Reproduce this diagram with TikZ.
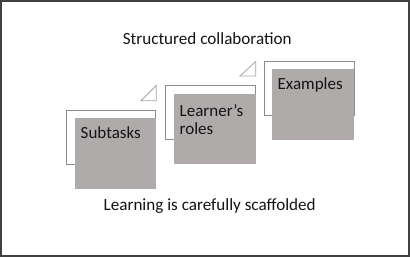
\documentclass[tikz,border=0pt]{standalone}
\usepackage{fontspec}
\setmainfont{Carlito}
\begin{document}
\begin{tikzpicture}[x=1pt,y=-1pt]
\definecolor{boxgray}{RGB}{175,171,171}
\definecolor{edgegray}{RGB}{140,140,140}
\definecolor{trigray}{RGB}{165,165,165}
\definecolor{framegray}{RGB}{64,64,64}
\definecolor{txt}{RGB}{20,20,20}
\tikzset{
  frame/.style={draw=framegray,line width=1.5pt},
  backbox/.style={draw=edgegray,fill=white,line width=0.8pt},
  frontbox/.style={fill=boxgray},
  corner/.style={draw=trigray,fill=white,line width=0.8pt,line join=miter},
  lbl/.style={font=\fontsize{17}{18}\selectfont,text=txt,inner sep=0pt,anchor=base west},
  title/.style={font=\fontsize{17.1}{18}\selectfont,text=txt,inner sep=0pt,anchor=base}
}
\useasboundingbox (0,0) rectangle (410,257);
\draw[frame] (0.8,0.8) rectangle (409.2,256.2);
% group 1
\draw[backbox] (66.7,110) rectangle (155.7,164);
\fill[frontbox] (75,118.3) rectangle (155.7,189);
\draw[corner] (141,100.7) -- (156.2,100.7) -- (156.2,85.5) -- cycle;
\node[lbl] (s1) at (80.5,138.3) {Subtasks};
% group 2
\draw[backbox] (165.3,85.5) rectangle (255.7,139);
\fill[frontbox] (174,94) rectangle (255.7,164);
\draw[corner] (240,76) -- (255.7,76) -- (255.7,61.5) -- cycle;
\node[lbl] (s2a) at (179.5,116.7) {Learner’s};
\node[lbl] (s2b) at (179.5,134.2) {roles};
% group 3
\draw[backbox] (264,61.7) rectangle (354,115);
\fill[frontbox] (272.3,69.3) rectangle (354,140);
\node[lbl] (s3) at (277.5,89) {Examples};
% titles
\node[title] (top) at (207.2,44) {Structured collaboration};
\node[title] (bot) at (209.7,210) {Learning is carefully scaffolded};
\end{tikzpicture}
\end{document}
